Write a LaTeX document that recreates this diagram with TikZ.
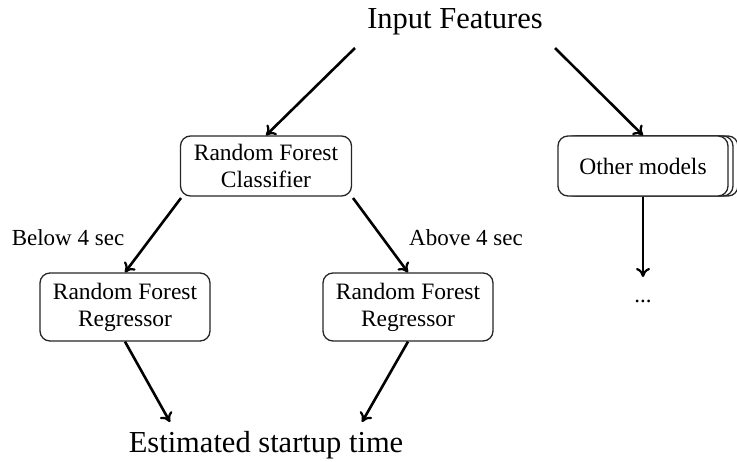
\documentclass[tikz,border=0pt]{standalone}
\usepackage{fontspec}
\setmainfont{Liberation Serif}
\usetikzlibrary{arrows.meta}
\begin{document}
\begin{tikzpicture}[x=1pt,y=-1pt,
  boxnode/.style={draw=black!85, line width=1.3pt, rounded corners=10pt, fill=white,
    minimum width=170pt, minimum height=60pt, align=center, inner sep=2pt,
    font=\fontsize{23.5}{27}\selectfont},
  bigtext/.style={font=\fontsize{30.5}{34}\selectfont, inner sep=0pt},
  labtext/.style={font=\fontsize{23}{27}\selectfont, inner sep=0pt},
  conn/.style={line width=2.6pt, -{To[length=9pt,width=14pt,line width=2.2pt]}}]
\useasboundingbox (0,0) rectangle (737,461);
\node[bigtext] (inp) at (455,22) {Input Features};
\node[boxnode, minimum width=171pt] (cls) at (266,166) {Random Forest\\Classifier};
% other models stack
\draw[line width=1.3pt, rounded corners=10pt, fill=white, draw=black!85] (568,136) rectangle (738,196);
\draw[line width=1.3pt, rounded corners=10pt, fill=white, draw=black!85] (563,136) rectangle (733,196);
\node[boxnode] (oth) at (643,166) {Other models};
\node[boxnode, minimum height=68pt] (regl) at (125,307) {Random Forest\\Regressor};
\node[boxnode, minimum height=68pt] (regr) at (408,307) {Random Forest\\Regressor};
\node[labtext] (below) at (68,238) {Below 4 sec};
\node[labtext] (above) at (466,238) {Above 4 sec};
\node[bigtext] (est) at (266,445) {Estimated startup time};
\node[labtext] (dots) at (643,301) {...};
\coordinate (inl) at (355,48);
\coordinate (inr) at (555,48);
\draw[conn] (inl) -- (cls.north);
\draw[conn] (inr) -- (oth.north);
\coordinate (cl) at (181,198);
\coordinate (cr) at (353,198);
\draw[conn] (cl) -- (regl.north);
\draw[conn] (cr) -- (regr.north);
\draw[conn] (oth.south) -- (643,277) coordinate (dt);
\coordinate (el) at (170,422);
\coordinate (er) at (362,422);
\draw[conn] (regl.south) -- (el);
\draw[conn] (regr.south) -- (er);
\end{tikzpicture}
\end{document}
